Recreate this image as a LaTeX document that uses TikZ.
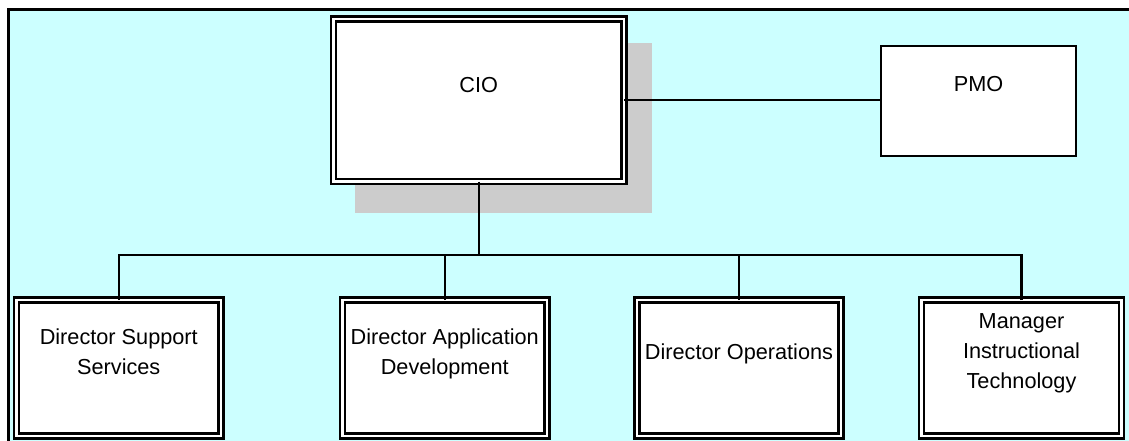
\documentclass[tikz,border=0pt]{standalone}
\usepackage{fontspec}
\setmainfont{Liberation Sans}
\definecolor{bgcyan}{HTML}{CCFFFF}
\definecolor{shadowgray}{HTML}{CCCCCC}
\begin{document}
\begin{tikzpicture}[x=1pt,y=-1pt,
  dbox/.style={draw=black, line width=2.2pt, double=white, double distance=2.8pt,
    fill=white, inner sep=0pt, outer sep=0pt},
  sbox/.style={draw=black, line width=2.2pt, fill=white, inner sep=0pt, outer sep=0pt},
  txt/.style={font=\fontsize{21.7}{30}\selectfont, align=center, text depth=0pt, inner sep=0pt},
  conn/.style={draw=black, line width=2.5pt}
]
\useasboundingbox (0,0) rectangle (1129,441);
\clip (0,0) rectangle (1129,441);
% background frame
\fill[bgcyan] (8.5,9.5) rectangle (1140,460);
\draw[line width=3.5pt] (8.5,470) -- (8.5,9.5) -- (1140,9.5);
% shadow of CIO box
\fill[shadowgray] (355,43) rectangle (652,213);
% boxes
\node[dbox, minimum width=290.5pt, minimum height=162.5pt] (cio) at (478.75,100.25) {};
\node[sbox, minimum width=195pt, minimum height=110pt] (pmo) at (978.5,101) {};
\node[dbox, minimum width=204.5pt, minimum height=136pt] (b1) at (118.75,368) {};
\node[dbox, minimum width=204.5pt, minimum height=136pt] (b2) at (444.75,368) {};
\node[dbox, minimum width=204pt, minimum height=136pt] (b3) at (739,368) {};
\node[dbox, minimum width=200.5pt, minimum height=136pt] (b4) at (1021.5,368) {};
% texts
\node[txt] (tcio) at ([yshift=15.25pt]cio.center) {CIO};
\node[txt] (tpmo) at ([yshift=17pt]pmo.center) {PMO};
\node[txt] (t1) at ([yshift=16.5pt]b1.center) {Director Support\\Services};
\node[txt] (t2) at ([yshift=16.5pt]b2.center) {Director Application\\Development};
\node[txt] (t3) at ([yshift=16.5pt]b3.center) {Director Operations};
\node[txt] (t4) at ([yshift=16.5pt]b4.center) {Manager\\Instructional\\Technology};
% connectors
\coordinate (bus) at (0,255);
\draw[conn] (cio.east) -- (cio.east -| pmo.west);
\draw[conn] (cio.south) -- (cio.south |- bus);
\draw[conn, line cap=rect] (b1.north |- bus) -- (b4.north |- bus);
\draw[conn] (b1.north) -- (b1.north |- bus);
\draw[conn] (b2.north) -- (b2.north |- bus);
\draw[conn] (b3.north) -- (b3.north |- bus);
\draw[conn] (b4.north) -- (b4.north |- bus);
\end{tikzpicture}
\end{document}
